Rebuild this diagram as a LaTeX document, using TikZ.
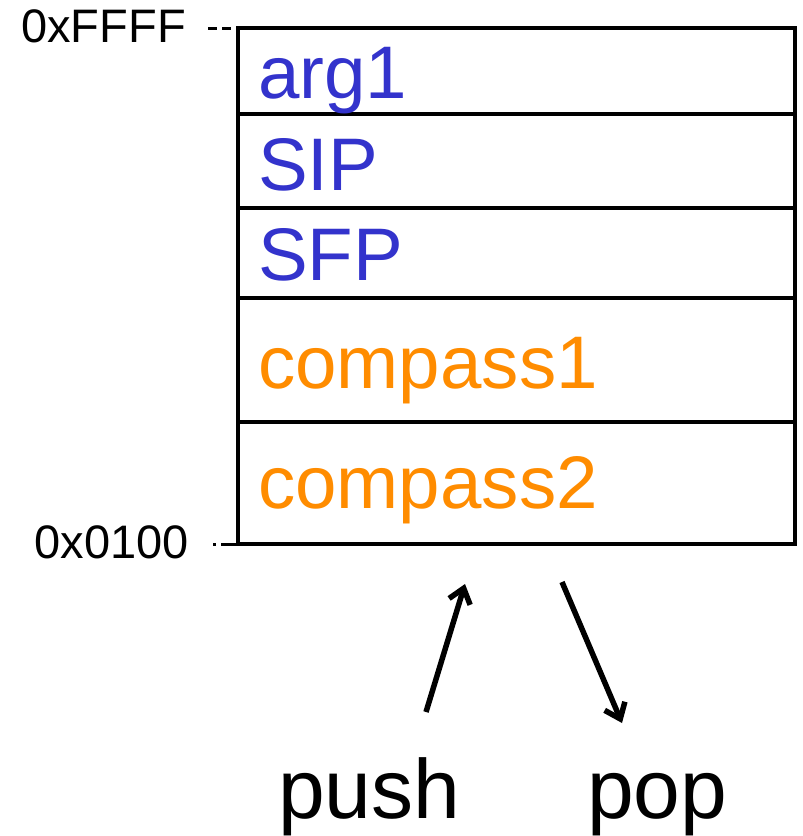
\documentclass[tikz,border=0pt]{standalone}
\usepackage{fontspec}
\setmainfont{Liberation Sans}
\usetikzlibrary{arrows.meta}
\definecolor{cblue}{RGB}{51,51,204}
\definecolor{corange}{RGB}{255,140,0}
\begin{document}
\begin{tikzpicture}[x=1pt,y=-1pt,
  rowtxt/.style={anchor=base west,inner sep=0pt,font=\fontsize{74.5}{74.5}\selectfont},
  addr/.style={anchor=base east,inner sep=0pt,font=\fontsize{47}{47}\selectfont},
  optxt/.style={anchor=base west,inner sep=0pt,font=\fontsize{84}{84}\selectfont},
  cell/.style={draw,line width=4.5pt},
  stackarrow/.style={line width=5.5pt,-{Straight Barb[length=14pt,width=22pt,line width=5.5pt]}}]
\useasboundingbox (0,0) rectangle (803,836);
% stack cells
\draw[cell] (238,28) rectangle (795,114);
\draw[cell] (238,114) rectangle (795,208);
\draw[cell] (238,208) rectangle (795,298);
\draw[cell] (238,298) rectangle (795,422);
\draw[cell] (238,422) rectangle (795,544);
% labels
\node[rowtxt,text=cblue] (a1) at (258,98) {arg1};
\node[rowtxt,text=cblue] (sip) at (258,190) {SIP};
\node[rowtxt,text=cblue] (sfp) at (258,280) {SFP};
\node[rowtxt,text=corange] (c1) at (258,388) {compass1};
\node[rowtxt,text=corange] (c2) at (258,508) {compass2};
% addresses
\node[addr] (top) at (186,42) {0xFFFF};
\node[addr] (bot) at (189,558) {0x0100};
\draw[line width=3pt,dash pattern=on 9pt off 5pt] (208,28) -- (238,28);
\draw[line width=3pt,dash pattern=on 3pt off 5pt on 20pt off 0pt] (213,544) -- (238,544);
% push / pop
\node[optxt] (push) at (278,818) {push};
\node[optxt] (pop) at (587,818) {pop};
\coordinate (pushs) at (426,712);
\coordinate (pushe) at (465,584);
\coordinate (pops) at (562,582);
\coordinate (pope) at (622,723);
\draw[stackarrow] (pushs) -- (pushe);
\draw[stackarrow] (pops) -- (pope);
\end{tikzpicture}
\end{document}
